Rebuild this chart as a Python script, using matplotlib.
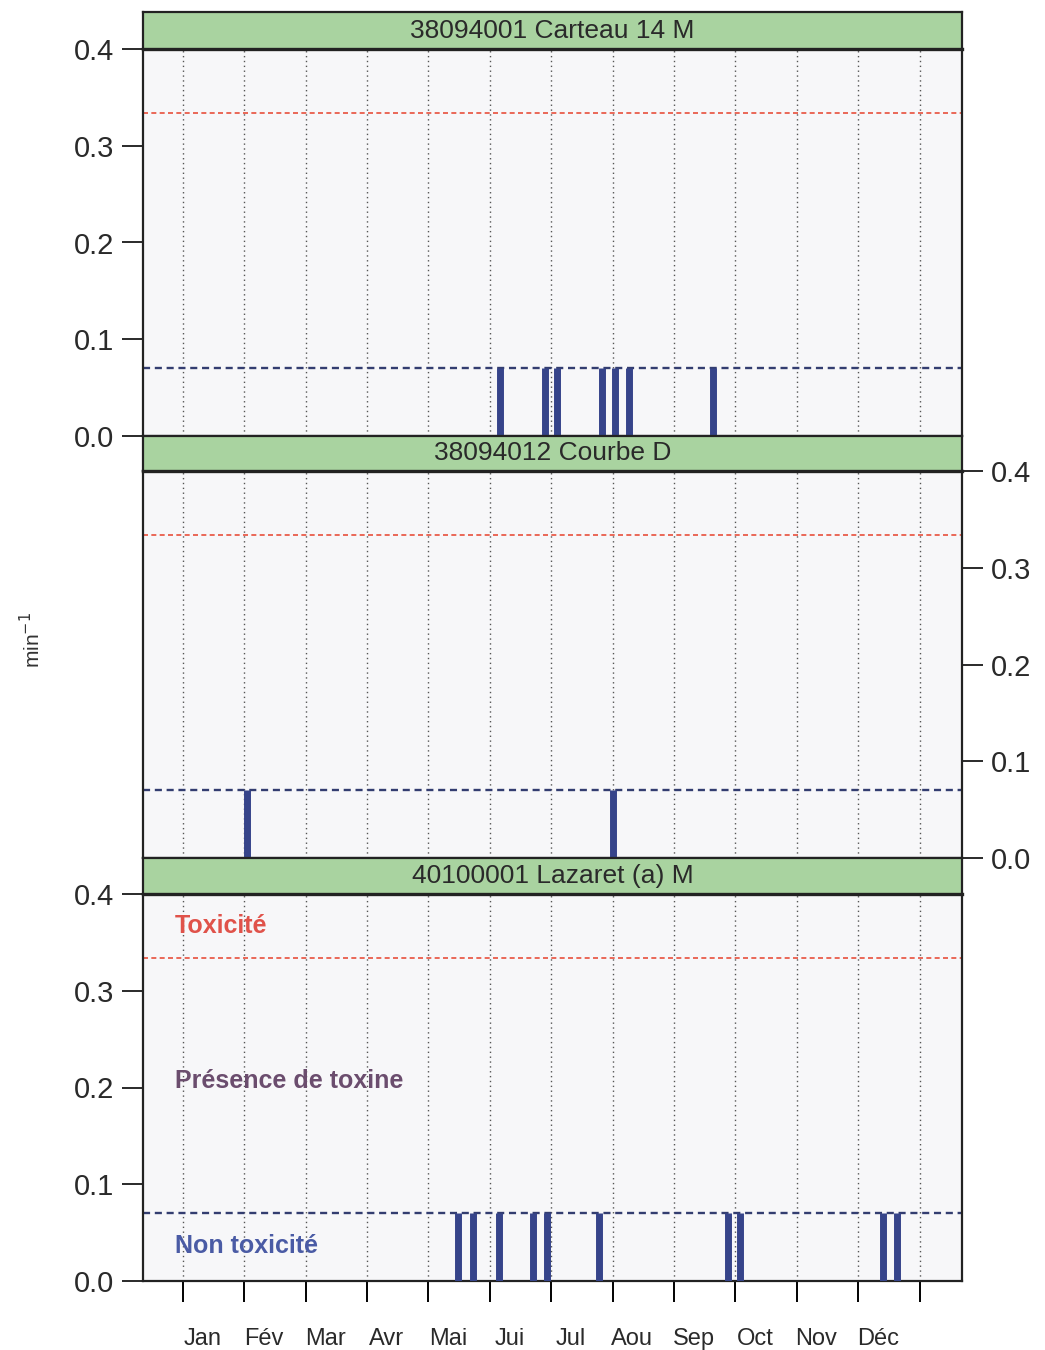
import matplotlib
matplotlib.use("Agg")
import matplotlib.pyplot as plt
from matplotlib import font_manager

# donnees
mois = ['Jan', 'Fév', 'Mar', 'Avr', 'Mai', 'Jui', 'Jul', 'Aou', 'Sep', 'Oct', 'Nov', 'Déc']
stations = ['38094001 Carteau 14 M', '38094012 Courbe D', '40100001 Lazaret (a) M']

# dates des prelevements (en mois depuis le 1er janvier) et valeurs
dates_carteau = [5.16, 5.90, 6.09, 6.82, 7.04, 7.26, 8.63]
val_carteau = [0.07, 0.07, 0.07, 0.07, 0.07, 0.07, 0.07]
dates_courbe = [1.04, 7.00]
val_courbe = [0.07, 0.07]
dates_lazaret = [4.48, 4.72, 5.15, 5.70, 5.93, 6.78, 8.88, 9.07, 11.40, 11.63]
val_lazaret = [0.07, 0.07, 0.07, 0.07, 0.07, 0.07, 0.07, 0.07, 0.07, 0.07]

seuil_toxicite = 0.334
seuil_presence = 0.07
y_ticks = [0.0, 0.1, 0.2, 0.3, 0.4]

dates = [dates_carteau, dates_courbe, dates_lazaret]
valeurs = [val_carteau, val_courbe, val_lazaret]

names = {f.name for f in font_manager.fontManager.ttflist}
narrow = 'Liberation Sans Narrow' if 'Liberation Sans Narrow' in names else 'Liberation Sans'
plt.rcParams['font.family'] = ['Liberation Sans', 'DejaVu Sans']

W, H = 1045, 1350
fig = plt.figure(figsize=(W / 100, H / 100), dpi=100)


def px_axes(x0, y0, x1, y1):
    return fig.add_axes([x0 / W, 1 - y1 / H, (x1 - x0) / W, (y1 - y0) / H])


x_left, x_right = 143, 962
panels = [(12, 49, 436), (436, 471, 858), (858, 894, 1281)]
xlim = (-0.65, 12.69)
txt_col = '#2a2a2a'

for i, (top, mid, bot) in enumerate(panels):
    ax = px_axes(x_left, mid, x_right, bot)
    ax.set_facecolor('#f7f7f9')
    ax.set_xlim(*xlim)
    ax.set_ylim(0, 0.4)
    for m in range(13):
        ax.axvline(m, color='#555555', lw=1.0, ls=(0, (1, 2.5)), zorder=1)
    ax.axhline(seuil_toxicite, color='#e8503c', lw=1.2, ls=(0, (3, 2)), zorder=2)
    ax.axhline(seuil_presence, color='#333d70', lw=1.7, ls=(0, (3, 2)), zorder=2)
    ax.vlines(dates[i], 0, valeurs[i], color='#36448a', lw=5, zorder=3)
    for s in ax.spines.values():
        s.set_linewidth(1.6)
        s.set_color('#222222')

    ax.set_yticks(y_ticks)
    ax.set_yticklabels([f'{v:.1f}' for v in y_ticks])
    ax.tick_params(axis='y', direction='out', length=15, width=1.4, labelsize=21,
                   colors=txt_col, pad=6)
    if i == 1:
        ax.yaxis.tick_right()
    else:
        ax.yaxis.tick_left()

    if i == 2:
        ax.set_xticks(range(13))
        ax.set_xticklabels([])
        ax.set_xticks([m + 0.32 for m in range(12)], minor=True)
        ax.set_xticklabels(mois, minor=True, fontfamily=narrow, fontsize=17, color=txt_col)
        ax.tick_params(axis='x', which='major', direction='out', length=15, width=1.4)
        ax.tick_params(axis='x', which='minor', length=0, pad=34)
        ax.text(-0.13, 0.367, 'Toxicité', color='#e0524a', fontsize=18,
                fontweight='bold', va='center', ha='left')
        ax.text(-0.13, 0.207, 'Présence de toxine', color='#6b4d6e', fontsize=18,
                fontweight='bold', va='center', ha='left')
        ax.text(-0.13, 0.036, 'Non toxicité', color='#4a5ba5', fontsize=18,
                fontweight='bold', va='center', ha='left')
    else:
        ax.set_xticks([])

    strip = px_axes(x_left, top, x_right, mid)
    strip.set_facecolor('#a9d3a0')
    strip.set_xticks([])
    strip.set_yticks([])
    for s in strip.spines.values():
        s.set_linewidth(1.6)
        s.set_color('#222222')
    strip.spines['bottom'].set_linewidth(2.4)
    strip.text(0.5, 0.5, stations[i], ha='center', va='center', fontsize=19,
               fontfamily=narrow, color=txt_col, transform=strip.transAxes)

fig.text(32 / W, 1 - 640 / H, 'min$^{-1}$', rotation=90, ha='center', va='center',
         fontsize=15, color='#333333')

fig.savefig('out.png', dpi=100, facecolor='white')
